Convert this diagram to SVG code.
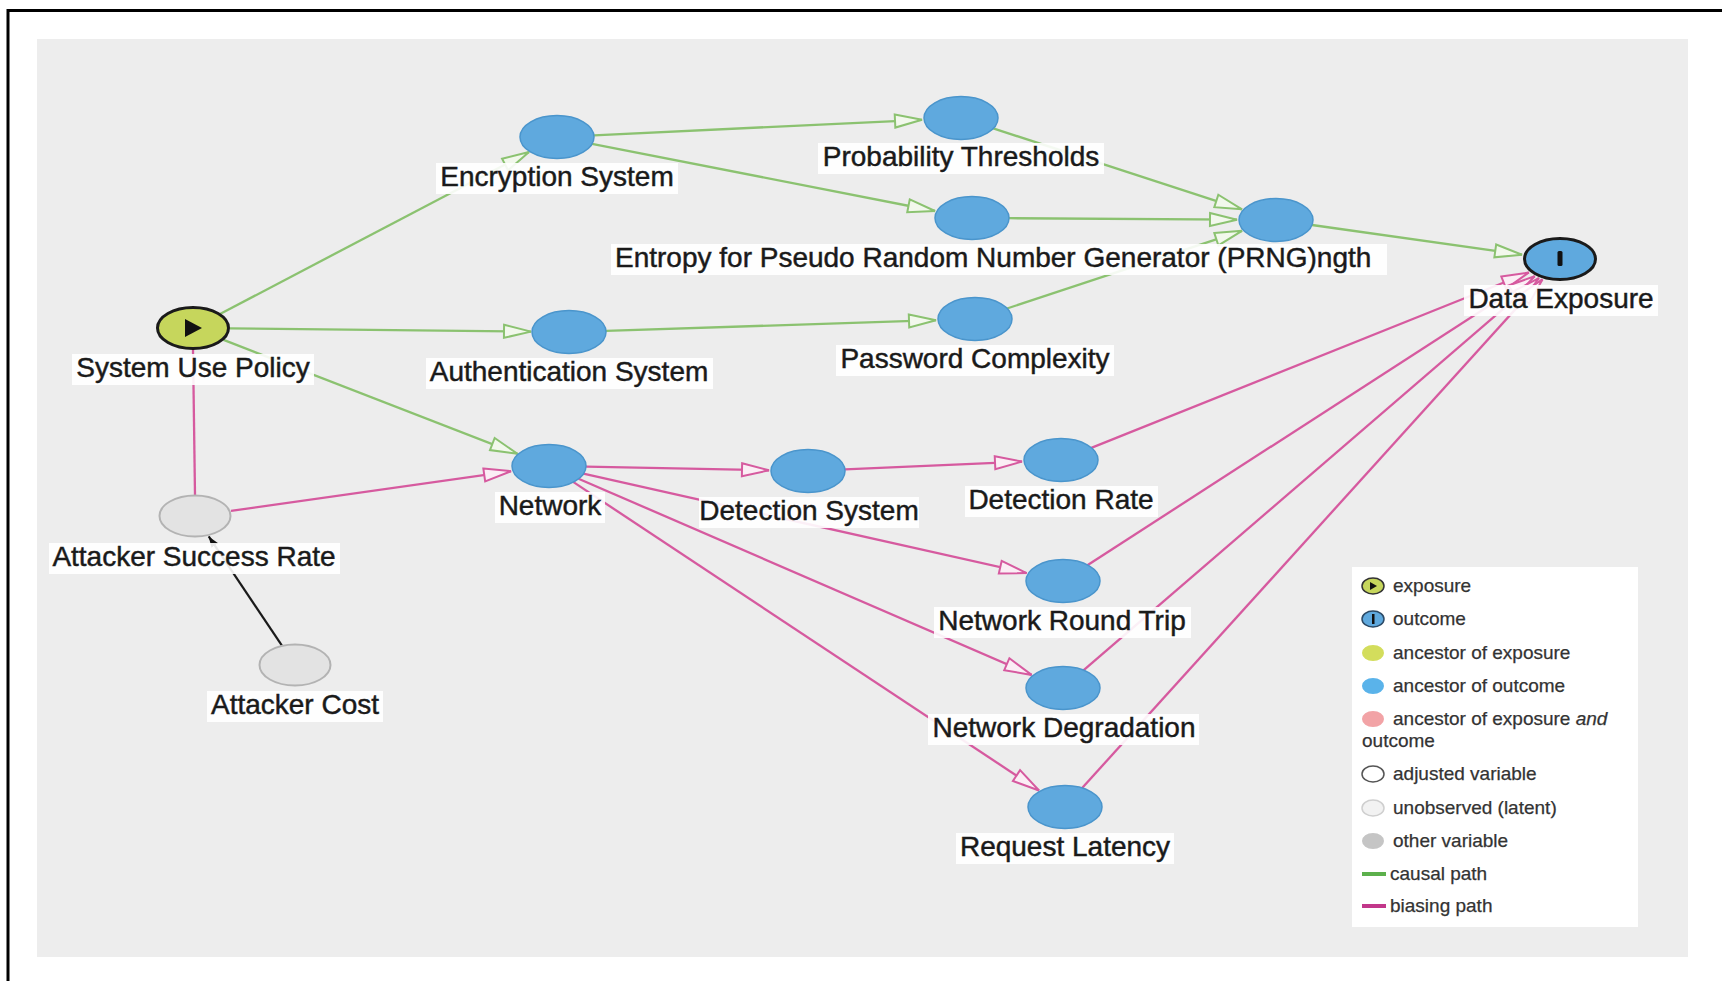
<svg xmlns="http://www.w3.org/2000/svg" width="1722" height="981" viewBox="0 0 1722 981">
  <style>
    .lbl { font-family: "Liberation Sans", Arial, sans-serif; font-size: 28px; fill: #1a1a1a; stroke: #1a1a1a; stroke-width: 0.45; text-anchor: middle; }
    .lblbg { fill: #ffffff; opacity: 0.9; }
    .anc { fill: #5fa9de; stroke: #4a95cc; stroke-width: 1.5; }
    .lat { fill: #e3e3e3; stroke: #b3b3b3; stroke-width: 2; }
    .causal { stroke: #8bc270; stroke-width: 2.3; fill: none; marker-end: url(#arrG); }
    .bias { stroke: #d65a9f; stroke-width: 2.3; fill: none; marker-end: url(#arrP); }
    .leg { font-family: "Liberation Sans", Arial, sans-serif; font-size: 19px; fill: #333333; stroke: #333333; stroke-width: 0.25; }
  </style>
  <defs>
    <marker id="arrG" markerUnits="userSpaceOnUse" markerWidth="34" markerHeight="20" viewBox="0 0 34 20" refX="30" refY="10" orient="auto">
      <path d="M3,3.5 L30,10 L3,16.5 Z" fill="#f2f8ec" stroke="#8bc270" stroke-width="2" stroke-linejoin="miter"/>
    </marker>
    <marker id="arrP" markerUnits="userSpaceOnUse" markerWidth="34" markerHeight="20" viewBox="0 0 34 20" refX="30" refY="10" orient="auto">
      <path d="M3,3.5 L30,10 L3,16.5 Z" fill="#fbeef5" stroke="#d65a9f" stroke-width="2" stroke-linejoin="miter"/>
    </marker>
    <marker id="arrK" markerUnits="userSpaceOnUse" markerWidth="12" markerHeight="10" viewBox="0 0 12 10" refX="11" refY="5" orient="auto">
      <path d="M0,1 L11,5 L0,9 Z" fill="#111111"/>
    </marker>
  </defs>

  <!-- page frame and canvas -->
  <rect x="0" y="0" width="1722" height="981" fill="#ffffff"/>
  <line x1="8" y1="10.5" x2="1722" y2="10.5" stroke="#000000" stroke-width="3"/>
  <line x1="8" y1="9" x2="8" y2="981" stroke="#000000" stroke-width="3"/>
  <rect x="37" y="39" width="1651" height="918" fill="#ededed"/>

  <!-- connectors -->
  <g id="edges">
    <line class="causal" x1="220" y1="314" x2="529" y2="152"/>
    <line class="causal" x1="230" y1="328.4" x2="531" y2="331.6"/>
    <line class="causal" x1="223.6" y1="339.9" x2="517.5" y2="453.8"/>
    <line class="causal" x1="594" y1="135.3" x2="922" y2="119.8"/>
    <line class="causal" x1="592" y1="143.8" x2="935" y2="211"/>
    <line class="causal" x1="993.2" y1="128.4" x2="1242" y2="209.3"/>
    <line class="causal" x1="1009" y1="218.2" x2="1237" y2="219.7"/>
    <line class="causal" x1="1007" y1="308.5" x2="1242" y2="230.8"/>
    <line class="causal" x1="606" y1="330.8" x2="936" y2="320.2"/>
    <line class="causal" x1="1312" y1="225" x2="1522" y2="254.7"/>

    <line x1="193" y1="349" x2="195" y2="495" stroke="#d65a9f" stroke-width="2.3"/>
    <line class="bias" x1="231" y1="510.9" x2="511" y2="471.2"/>
    <line class="bias" x1="586" y1="466.7" x2="769" y2="470.3"/>
    <line class="bias" x1="845" y1="469.4" x2="1022" y2="461.6"/>
    <line class="bias" x1="583.4" y1="473.7" x2="1026.6" y2="573.1"/>
    <line class="bias" x1="578.5" y1="478.7" x2="1031.6" y2="674.9"/>
    <line class="bias" x1="573.1" y1="481.9" x2="1039" y2="790.5"/>
    <line class="bias" x1="1091.3" y1="447.9" x2="1528.8" y2="272.5"/>
    <line class="bias" x1="1087.4" y1="565.2" x2="1534.7" y2="276.3"/>
    <line class="bias" x1="1083.4" y1="670.4" x2="1538.9" y2="278.2"/>
    <line class="bias" x1="1081.9" y1="788.3" x2="1542.4" y2="279.4"/>

    <line x1="281.8" y1="645.4" x2="208.7" y2="536.4" stroke="#1a1a1a" stroke-width="2.2" marker-end="url(#arrK)"/>
  </g>

  <!-- nodes -->
  <g id="system-use-policy">
    <ellipse cx="193" cy="328" rx="35.5" ry="20.5" fill="#c6d65c" stroke="#1a1a1a" stroke-width="3"/>
    <path d="M185,319 L202,328 L185,337 Z" fill="#111111"/>
    <rect class="lblbg" x="72" y="354" width="242" height="31"/>
    <text class="lbl" x="193" y="377">System Use Policy</text>
  </g>
  <g id="encryption-system">
    <ellipse class="anc" cx="557" cy="137" rx="37" ry="21.5"/>
    <rect class="lblbg" x="436" y="163" width="242" height="31"/>
    <text class="lbl" x="557" y="186">Encryption System</text>
  </g>
  <g id="probability-thresholds">
    <ellipse class="anc" cx="961" cy="118" rx="37" ry="21.5"/>
    <rect class="lblbg" x="818" y="143" width="286" height="31"/>
    <text class="lbl" x="961" y="166">Probability Thresholds</text>
  </g>
  <g id="entropy-prng">
    <ellipse class="anc" cx="972" cy="218" rx="37" ry="21.5"/>
  </g>
  <g id="prng-length">
    <ellipse class="anc" cx="1276" cy="220" rx="37" ry="21.5"/>
  </g>
  <g id="entropy-label">
    <rect class="lblbg" x="611" y="244" width="776" height="31"/>
    <text class="lbl" x="615" y="267" style="text-anchor:start">Entropy for Pseudo Random Number Generator (PRNG)ngth</text>
  </g>
  <g id="data-exposure">
    <ellipse cx="1560" cy="259" rx="35.5" ry="20.5" fill="#5fa9de" stroke="#1a1a1a" stroke-width="3"/>
    <rect x="1557.5" y="251" width="5" height="15" rx="1.5" fill="#111111"/>
    <rect class="lblbg" x="1464" y="285" width="194" height="31"/>
    <text class="lbl" x="1561" y="308">Data Exposure</text>
  </g>
  <g id="authentication-system">
    <ellipse class="anc" cx="569" cy="332" rx="37" ry="21.5"/>
    <rect class="lblbg" x="426" y="358" width="287" height="31"/>
    <text class="lbl" x="569" y="381">Authentication System</text>
  </g>
  <g id="password-complexity">
    <ellipse class="anc" cx="975" cy="319" rx="37" ry="21.5"/>
    <rect class="lblbg" x="836" y="345" width="278" height="31"/>
    <text class="lbl" x="975" y="368">Password Complexity</text>
  </g>
  <g id="network">
    <ellipse class="anc" cx="549" cy="466" rx="37" ry="21.5"/>
    <rect class="lblbg" x="495" y="492" width="110" height="31"/>
    <text class="lbl" x="550" y="515">Network</text>
  </g>
  <g id="detection-system">
    <ellipse class="anc" cx="808" cy="471" rx="37" ry="21.5"/>
    <rect class="lblbg" x="699" y="497" width="220" height="31"/>
    <text class="lbl" x="809" y="520">Detection System</text>
  </g>
  <g id="detection-rate">
    <ellipse class="anc" cx="1061" cy="460" rx="37" ry="21.5"/>
    <rect class="lblbg" x="965" y="486" width="193" height="31"/>
    <text class="lbl" x="1061" y="509">Detection Rate</text>
  </g>
  <g id="network-round-trip">
    <ellipse class="anc" cx="1063" cy="581" rx="37" ry="21.5"/>
    <rect class="lblbg" x="934" y="607" width="257" height="31"/>
    <text class="lbl" x="1062" y="630">Network Round Trip</text>
  </g>
  <g id="network-degradation">
    <ellipse class="anc" cx="1063" cy="688" rx="37" ry="21.5"/>
    <rect class="lblbg" x="928" y="714" width="271" height="31"/>
    <text class="lbl" x="1064" y="737">Network Degradation</text>
  </g>
  <g id="request-latency">
    <ellipse class="anc" cx="1065" cy="807" rx="37" ry="21.5"/>
    <rect class="lblbg" x="956" y="833" width="218" height="31"/>
    <text class="lbl" x="1065" y="856">Request Latency</text>
  </g>
  <g id="attacker-success-rate">
    <ellipse class="lat" cx="195" cy="516" rx="35.5" ry="20.5"/>
    <rect class="lblbg" x="49" y="543" width="291" height="31"/>
    <text class="lbl" x="194" y="566">Attacker Success Rate</text>
  </g>
  <g id="attacker-cost">
    <ellipse class="lat" cx="295" cy="665" rx="35.5" ry="20.5"/>
    <rect class="lblbg" x="207" y="691" width="176" height="31"/>
    <text class="lbl" x="295" y="714">Attacker Cost</text>
  </g>

  <!-- legend -->
  <g id="legend">
    <rect x="1352" y="567" width="286" height="360" fill="#ffffff"/>
    <ellipse cx="1373" cy="586" rx="11" ry="8" fill="#c6d65c" stroke="#333333" stroke-width="1.5"/>
    <path d="M1370,582 L1377,586 L1370,590 Z" fill="#111111"/>
    <text class="leg" x="1393" y="592">exposure</text>
    <ellipse cx="1373" cy="619" rx="11" ry="8" fill="#5fa9de" stroke="#2c4a66" stroke-width="1.5"/>
    <rect x="1372" y="614" width="2.5" height="10" fill="#111111"/>
    <text class="leg" x="1393" y="625">outcome</text>
    <ellipse cx="1373" cy="653" rx="11" ry="8" fill="#d3dd5c"/>
    <text class="leg" x="1393" y="659">ancestor of exposure</text>
    <ellipse cx="1373" cy="686" rx="11" ry="8" fill="#5ab3ea"/>
    <text class="leg" x="1393" y="692">ancestor of outcome</text>
    <ellipse cx="1373" cy="719" rx="11" ry="8" fill="#f2a3a6"/>
    <text class="leg" x="1393" y="725">ancestor of exposure <tspan font-style="italic">and</tspan></text>
    <text class="leg" x="1362" y="747">outcome</text>
    <ellipse cx="1373" cy="774" rx="11" ry="8" fill="#ffffff" stroke="#555555" stroke-width="1.5"/>
    <text class="leg" x="1393" y="780">adjusted variable</text>
    <ellipse cx="1373" cy="808" rx="11" ry="8" fill="#f2f2f2" stroke="#cfcfcf" stroke-width="1.5"/>
    <text class="leg" x="1393" y="814">unobserved (latent)</text>
    <ellipse cx="1373" cy="841" rx="11" ry="8" fill="#c5c5c5"/>
    <text class="leg" x="1393" y="847">other variable</text>
    <line x1="1362" y1="874" x2="1386" y2="874" stroke="#5cb04c" stroke-width="4"/>
    <text class="leg" x="1390" y="880">causal path</text>
    <line x1="1362" y1="906" x2="1386" y2="906" stroke="#c2378a" stroke-width="4"/>
    <text class="leg" x="1390" y="912">biasing path</text>
  </g>
</svg>
